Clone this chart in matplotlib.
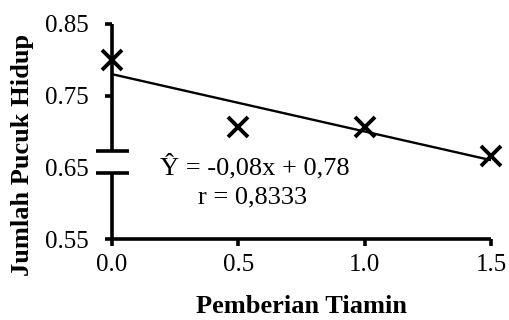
import numpy as np
import matplotlib.pyplot as plt

# Data
tiamin = [0.0, 0.5, 1.0, 1.5]
pucuk_hidup = [0.80, 0.706, 0.706, 0.666]
slope, intercept = -0.08, 0.78
xticks = [0.0, 0.5, 1.0, 1.5]
yticks = [0.55, 0.65, 0.75, 0.85]

plt.rcParams['font.family'] = ['Liberation Serif', 'DejaVu Serif']

fig = plt.figure(figsize=(5.09, 3.2), dpi=100)
ax = fig.add_axes([0.220, 0.253, 0.745, 0.672])

lw = 2.6
# regression line
xs = np.array([tiamin[0], tiamin[-1]])
ax.plot(xs, slope * xs + intercept, color='black', lw=1.7, zorder=3)
# observed points
ax.plot(tiamin, pucuk_hidup, linestyle='', marker='x', ms=14, mew=2.8,
        color='black', clip_on=False, zorder=4)

ax.set_xlim(0, 1.5)
ax.set_ylim(0.55, 0.85)
ax.set_xticks(xticks)
ax.set_xticklabels(['%.1f' % v for v in xticks])
ax.set_yticks(yticks)
ax.set_yticklabels(['%.2f' % v for v in yticks])

for s in ['top', 'right', 'left']:
    ax.spines[s].set_visible(False)
ax.spines['bottom'].set_linewidth(lw)
ax.spines['bottom'].set_capstyle('butt')

# broken y axis
brk_lo, brk_hi = 0.642, 0.673
yt = ax.get_yaxis_transform()
ax.plot([0, 0], [0.55, brk_lo], color='black', lw=lw, transform=yt,
        clip_on=False, solid_capstyle='butt', zorder=5)
ax.plot([0, 0], [brk_hi, 0.85], color='black', lw=lw, transform=yt,
        clip_on=False, solid_capstyle='butt', zorder=5)
for yb in (brk_lo, brk_hi):
    ax.plot([-0.042, 0.045], [yb, yb], color='black', lw=lw, transform=yt,
            clip_on=False, solid_capstyle='butt', zorder=5)

ax.tick_params(axis='both', direction='out', length=5, width=lw,
               labelsize=18, colors='black')
ax.tick_params(axis='y', pad=12)
ax.tick_params(axis='x', pad=6)
ax.yaxis.get_major_ticks()[1].tick1line.set_visible(False)

ax.set_xlabel('Pemberian Tiamin', fontsize=19, fontweight='bold', va='center')
ax.xaxis.set_label_coords(0.501, -0.316)
ax.set_ylabel('Jumlah Pucuk Hidup', fontsize=19, fontweight='bold', va='center')
ax.yaxis.set_label_coords(-0.235, 0.391)

ax.text(0.19, 0.651, 'Ŷ = -0,08x + 0,78', fontsize=19, va='center', ha='left')
ax.text(0.555, 0.608, 'r = 0,8333', fontsize=19, va='center', ha='center')

fig.savefig('out.png', dpi=100)
